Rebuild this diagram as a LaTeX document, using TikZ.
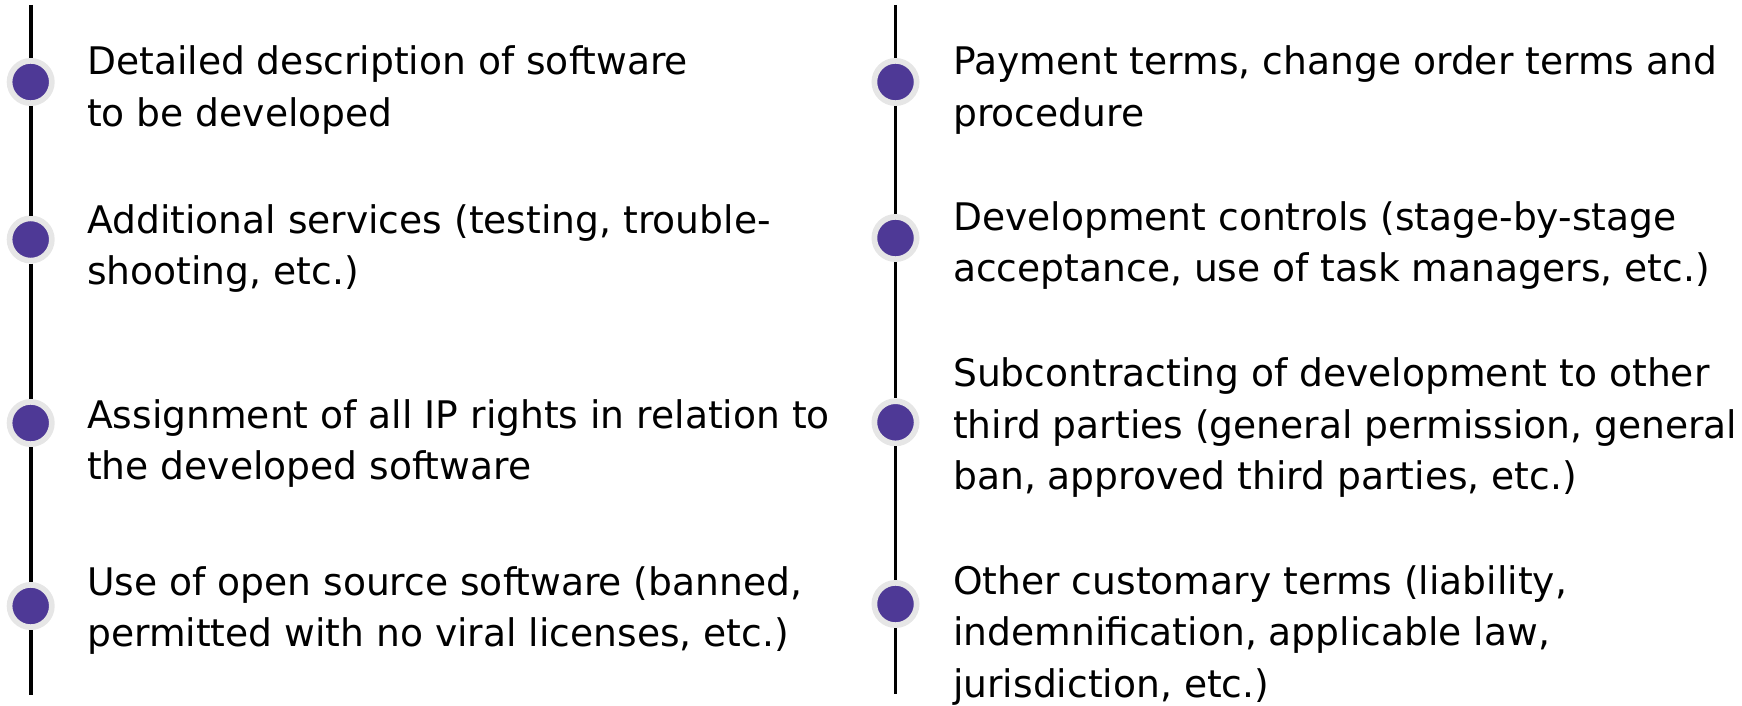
\documentclass[tikz,border=0pt]{standalone}
\usepackage{fontspec}
\setmainfont{DejaVu Sans}
\newfontfamily\itemfont[FakeStretch=0.99]{DejaVu Sans}
\definecolor{dotpurple}{RGB}{78,57,150}
\definecolor{ringgrey}{RGB}{230,230,230}
\newcommand\itemtext[1]{\vtop{\baselineskip=51.5pt #1}}
\tikzset{
  dotnode/.style={circle, fill=dotpurple, draw=ringgrey, line width=5.7pt, minimum size=42.3pt, inner sep=0pt},
  spine/.style={line width=3.8pt, black},
  itemnode/.style={anchor=base west, inner sep=0pt, font=\itemfont\fontsize{38pt}{51.5pt}\selectfont}
}
\begin{document}
\begin{tikzpicture}[x=1pt,y=-1pt]
\useasboundingbox (0,0) rectangle (1742,706);
% left column
\coordinate (ltop) at (30.7,5);
\coordinate (lbot) at (30.7,695);
\node[dotnode] (l1) at (30.7,82) {};
\node[dotnode] (l2) at (30.7,239.5) {};
\node[dotnode] (l3) at (30.7,423) {};
\node[dotnode] (l4) at (30.7,606) {};
\draw[spine] (ltop) -- (l1);
\draw[spine] (l1) -- (l2);
\draw[spine] (l2) -- (l3);
\draw[spine] (l3) -- (l4);
\draw[spine] (l4) -- (lbot);
% right column
\coordinate (rtop) at (895.5,5);
\coordinate (rbot) at (895.5,694);
\node[dotnode] (r1) at (895.5,82) {};
\node[dotnode] (r2) at (895.5,238) {};
\node[dotnode] (r3) at (895.5,422.3) {};
\node[dotnode] (r4) at (895.5,604) {};
\draw[spine] (rtop) -- (r1);
\draw[spine] (r1) -- (r2);
\draw[spine] (r2) -- (r3);
\draw[spine] (r3) -- (r4);
\draw[spine] (r4) -- (rbot);
% left texts
\node[itemnode] (tl1) at (87,75) {\itemtext{\hbox{Detailed description of software}\hbox{to be developed}}};
\node[itemnode] (tl2) at (87,233.3) {\itemtext{\hbox{Additional services (testing, trouble-}\hbox{shooting, etc.)}}};
\node[itemnode] (tl3) at (87,428) {\itemtext{\hbox{Assignment of all IP rights in relation to}\hbox{the developed software}}};
\node[itemnode] (tl4) at (87,595) {\itemtext{\hbox{Use of open source software (banned,}\hbox{permitted with no viral licenses, etc.)}}};
% right texts
\node[itemnode] (tr1) at (953,75) {\itemtext{\hbox{Payment terms, change order terms and}\hbox{procedure}}};
\node[itemnode] (tr2) at (953,230) {\itemtext{\hbox{Development controls (stage-by-stage}\hbox{acceptance, use of task managers, etc.)}}};
\node[itemnode] (tr3) at (953,386.7) {\itemtext{\hbox{Subcontracting of development to other}\hbox{third parties (general permission, general}\hbox{ban, approved third parties, etc.)}}};
\node[itemnode] (tr4) at (953,594) {\itemtext{\hbox{Other customary terms (liability,}\hbox{indemnification, applicable law,}\hbox{jurisdiction, etc.)}}};
\end{tikzpicture}
\end{document}
